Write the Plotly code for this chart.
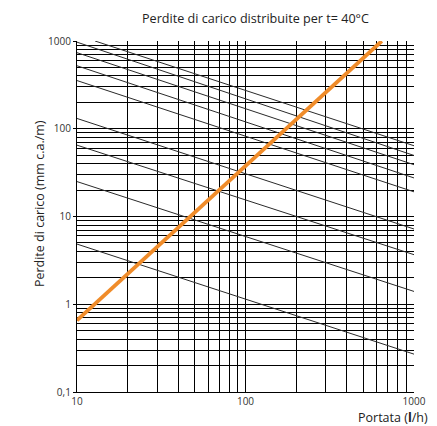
import plotly.graph_objects as go

# Data
flow_start = [12.8, 10, 10, 10, 10, 10, 10, 10, 10]          # l/h
loss_start = [1000, 970, 736, 522, 354, 131, 65, 25, 4.85]   # mm c.a./m
flow_end = [1000, 1000, 1000, 1000, 1000, 1000, 1000, 1000, 1000]
loss_end = [64, 49.6, 38.9, 27.5, 19.1, 7.2, 3.67, 1.4, 0.27]

orange_flow = [10, 644]
orange_loss = [0.655, 1000]

x_ticks = [10, 100, 1000]
x_labels = ["10", "100", "1000"]
y_ticks = [0.1, 1, 10, 100, 1000]
y_labels = ["0,1", "1", "10", "100", "1000"]

FONT = "Open Sans"

fig = go.Figure()
for xs, ys, xe, ye in zip(flow_start, loss_start, flow_end, loss_end):
    fig.add_trace(go.Scatter(x=[xs, xe], y=[ys, ye], mode="lines",
                             line=dict(color="#2a2a2a", width=1),
                             showlegend=False, hoverinfo="skip"))
fig.add_trace(go.Scatter(x=orange_flow, y=orange_loss, mode="lines",
                         line=dict(color="#F08C2A", width=3.8),
                         showlegend=False))

x_minor = [m * d for d in (10, 100) for m in range(2, 10)] + [100]
y_minor = [m * d for d in (0.1, 1, 10, 100) for m in range(2, 10)]

fig.update_layout(
    width=429, height=418,
    margin=dict(l=69, r=23, t=33, b=34),
    paper_bgcolor="white", plot_bgcolor="white",
    separators=",.",
    font=dict(family=FONT, color="#222"),
    xaxis=dict(type="log", range=[1, 3], tickvals=x_ticks, ticktext=x_labels,
               showgrid=False, showline=True, linecolor="black", linewidth=1.2,
               ticks="", tickfont=dict(size=10, color="#333"),
               minor=dict(tickvals=x_minor, showgrid=True, gridcolor="black",
                          gridwidth=1.2, ticks=""),
               zeroline=False),
    yaxis=dict(type="log", range=[-1, 3], tickvals=y_ticks, ticktext=y_labels,
               showgrid=True, gridcolor="black", gridwidth=1.2,
               showline=True, linecolor="black", linewidth=1.2,
               ticks="outside", ticklen=3, tickcolor="black",
               tickfont=dict(size=10, color="#333"),
               minor=dict(tickvals=y_minor, showgrid=True, gridcolor="black",
                          gridwidth=1.2, ticks=""),
               zeroline=False),
    annotations=[
        dict(text="Perdite di carico distribuite per t= 40°C", xref="paper", yref="paper",
             x=0.531, y=1.063, xanchor="center", yanchor="middle", showarrow=False,
             font=dict(size=12.6, family=FONT, color="#222")),
        dict(text="Perdite di carico (mm c.a./m)", xref="paper", yref="paper",
             x=-0.113, y=0.538, xanchor="center", yanchor="middle", textangle=-90,
             showarrow=False, font=dict(size=12.5, family=FONT, color="#222")),
        dict(text="Portata (<b>l</b>/h)", xref="paper", yref="paper",
             x=1.047, y=-0.074, xanchor="right", yanchor="middle", showarrow=False,
             font=dict(size=12.5, family=FONT, color="#222")),
    ],
)

fig.write_html("out.html")
